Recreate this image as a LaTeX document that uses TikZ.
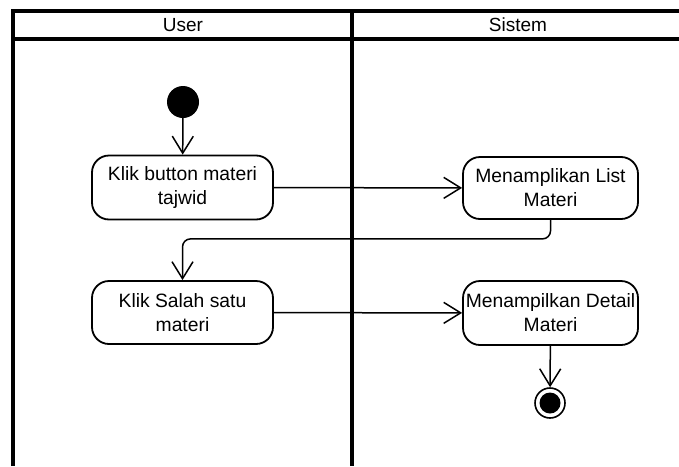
\documentclass[tikz,border=0pt]{standalone}
\usepackage{fontspec}
\setmainfont{Liberation Sans}
\usetikzlibrary{arrows.meta}
\tikzset{
  lane/.style={line width=3.2pt, black},
  actbox/.style={draw, line width=1.8pt, rounded corners=17pt, minimum width=181pt,
    minimum height=64pt, align=center, font=\fontsize{19.3pt}{24pt}\selectfont, inner sep=0pt},
  flow/.style={line width=1.5pt, -{Straight Barb[length=17pt,width=21pt,line width=1.5pt]}},
  lanetitle/.style={font=\fontsize{19pt}{21pt}\selectfont}
}
\begin{document}
\begin{tikzpicture}[x=1pt,y=-1pt]
\useasboundingbox (0,0) rectangle (679,466);
% swimlane frame
\draw[lane] (13,466) -- (13,11) -- (679,11);
\draw[lane] (13,39) -- (679,39);
\draw[lane] (352,11) -- (352,466);
\node[lanetitle] (hUser) at (183,25) {User};
\node[lanetitle] (hSis) at (518,25) {Sistem};
% start and end
\node[circle, fill=black, minimum size=32pt, inner sep=0pt] (start) at (183,102) {};
\node[circle, draw, line width=1.6pt, minimum size=30pt, inner sep=0pt] (stop) at (550,403) {};
\node[circle, fill=black, minimum size=21pt, inner sep=0pt] (stopdot) at (550,403) {};
% actions
\node[actbox] (a1) at (182.5,187.5) {Klik button materi\\tajwid};
\node[actbox, minimum width=175pt, minimum height=62pt] (a2) at (550.5,188) {Menamplikan List\\Materi};
\node[actbox, minimum height=63pt] (a3) at (182.5,312.5) {Klik Salah satu\\materi};
\node[actbox, minimum width=175pt] (a4) at (550.5,313) {Menampilkan Detail\\Materi};
% flows
\draw[flow] (start) -- (a1);
\draw[flow] (a1) -- (a2);
\draw[flow, rounded corners=8pt] (a2.south) -- ++(0,19) -| (a3.north);
\draw[flow] (a3) -- (a4);
\draw[flow] (a4) -- (stop);
\end{tikzpicture}
\end{document}
